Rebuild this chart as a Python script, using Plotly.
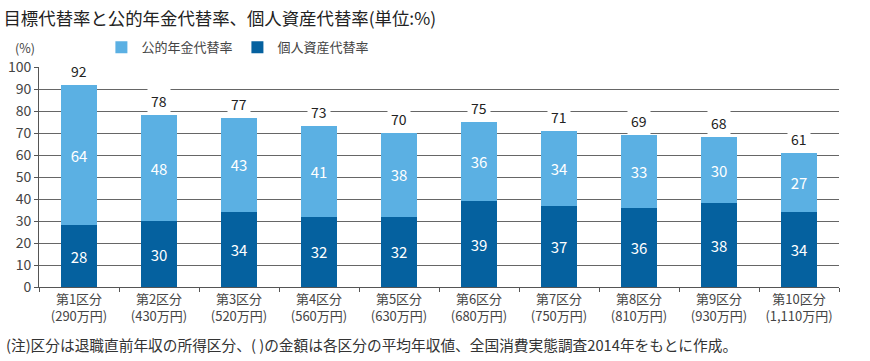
import plotly.graph_objects as go

categories = ["第1区分<br>(290万円)", "第2区分<br>(430万円)", "第3区分<br>(520万円)", "第4区分<br>(560万円)",
              "第5区分<br>(630万円)", "第6区分<br>(680万円)", "第7区分<br>(750万円)", "第8区分<br>(810万円)",
              "第9区分<br>(930万円)", "第10区分<br>(1,110万円)"]
personal = [28, 30, 34, 32, 32, 39, 37, 36, 38, 34]
public = [64, 48, 43, 41, 38, 36, 34, 33, 30, 27]
totals = [92, 78, 77, 73, 70, 75, 71, 69, 68, 61]

FONT = "Noto Sans CJK JP"
LIGHT = "#5BB0E3"
DARK = "#05619F"

fig = go.Figure()
fig.add_trace(go.Bar(x=categories, y=personal, name="個人資産代替率", marker_color=DARK,
                     marker_line_width=0, text=personal, textposition="inside",
                     insidetextanchor="middle", textfont=dict(color="white", size=15, family=FONT),
                     legendrank=2))
fig.add_trace(go.Bar(x=categories, y=public, name="公的年金代替率", marker_color=LIGHT,
                     marker_line_width=0, text=public, textposition="inside",
                     insidetextanchor="middle", textfont=dict(color="white", size=15, family=FONT),
                     legendrank=1))

for c, t in zip(categories, totals):
    fig.add_annotation(x=c, y=t, text=str(t), showarrow=False, yanchor="bottom", yshift=0,
                       bgcolor="white", font=dict(size=14, color="#222", family=FONT),
                       borderpad=3)

fig.add_annotation(xref="paper", yref="paper", x=-0.002, y=1.09, text="(%)", showarrow=False,
                   xanchor="right", yanchor="middle", font=dict(size=12.5, color="#444", family=FONT))
fig.add_annotation(xref="paper", yref="paper", x=-0.044, y=-0.26, text="(注)区分は退職直前年収の所得区分、( )の金額は各区分の平均年収値、全国消費実態調査2014年をもとに作成。",
                   showarrow=False, xanchor="left", yanchor="middle", font=dict(size=14.7, color="#333", family=FONT))

fig.update_layout(
    width=870, height=361,
    margin=dict(l=39, r=31, t=67, b=74, autoexpand=False),
    paper_bgcolor="white", plot_bgcolor="white",
    barmode="stack", bargap=0.54,
    font=dict(family=FONT, color="#333"),
    title=dict(text="目標代替率と公的年金代替率、個人資産代替率(単位:%)", x=0.004, xanchor="left",
               y=0.947, yanchor="middle", font=dict(size=17.4, color="#222", family=FONT)),
    legend=dict(orientation="h", x=0.078, y=1.09, xanchor="left", yanchor="middle",
                font=dict(size=13, color="#444", family=FONT), traceorder="normal",
                itemwidth=30, bgcolor="rgba(0,0,0,0)"),
    showlegend=True,
)
fig.update_xaxes(type="category", showline=True, linecolor="#555", linewidth=1, automargin=False,
                 ticks="outside", tickson="boundaries", ticklen=4, tickcolor="#555",
                 tickfont=dict(size=13, color="#444", family=FONT), showgrid=False)
fig.update_yaxes(range=[0, 100], dtick=10, showline=True, linecolor="#555", linewidth=1, automargin=False,
                 ticks="outside", ticklen=4, tickcolor="#555", showgrid=True, gridcolor="#666",
                 gridwidth=1, tickfont=dict(size=14, color="#444", family=FONT), zeroline=False)

fig.write_html("out.html", config={"displayModeBar": False},
               post_script="document.body.style.margin='0px';document.body.style.padding='0px';")
